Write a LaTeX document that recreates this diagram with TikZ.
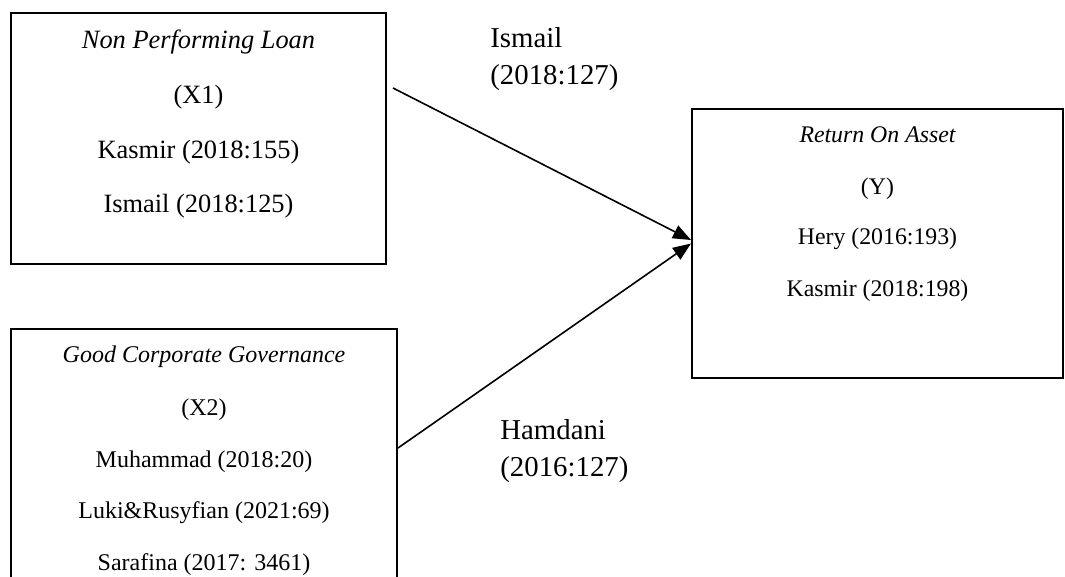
\documentclass[tikz,border=0pt]{standalone}
\usepackage{fontspec}
\setmainfont{Liberation Serif}
\usetikzlibrary{arrows.meta}
\begin{document}
\begin{tikzpicture}[x=0.5pt,y=-0.5pt,
  boxx/.style={draw, line width=1pt, inner sep=0pt},
  txt/.style={anchor=base, inner sep=0pt},
  lbl/.style={anchor=base west, inner sep=0pt, font=\fontsize{14.4}{17}\selectfont},
  fa/.style={font=\fontsize{13.2}{16}\selectfont},
  fai/.style={font=\fontsize{13.2}{16}\selectfont\itshape},
  fb/.style={font=\fontsize{12}{14}\selectfont},
  fbi/.style={font=\fontsize{12}{14}\selectfont\itshape},
  fc/.style={font=\fontsize{11.9}{14}\selectfont},
  fci/.style={font=\fontsize{11.9}{14}\selectfont\itshape},
  conn/.style={line width=0.8pt, -{Triangle[length=9pt,width=7pt]}}
]
\useasboundingbox (0,0) rectangle (1065,577);
\clip (0,0) rectangle (1065,577);
\fill[white] (0,0) rectangle (1065,577);
% boxes
\node[boxx, minimum width=187.5pt, minimum height=125.5pt] (x1) at (198.5,138.5) {};
\node[boxx, minimum width=193pt, minimum height=135.5pt] (x2) at (204,464.5) {};
\node[boxx, minimum width=185.5pt, minimum height=134.5pt] (yb) at (877.5,243.5) {};
% box 1 text
\node[txt, fai] (x1a) at (198.5,49) {Non Performing Loan};
\node[txt, fa] (x1b) at (198.5,104) {(X1)};
\node[txt, fa] (x1c) at (198.5,159) {Kasmir (2018:155)};
\node[txt, fa] (x1d) at (198.5,213) {Ismail (2018:125)};
% box 2 text
\node[txt, fbi] (x2a) at (204,362) {Good Corporate Governance};
\node[txt, fb] (x2b) at (204,415) {(X2)};
\node[txt, fb] (x2c) at (204,467) {Muhammad (2018:20)};
\node[txt, fb] (x2d) at (204,518) {Luki\&Rusyfian (2021:69)};
\node[txt, fb] (x2e) at (204,570) {Sarafina (2017: 3461)};
% box 3 text
\node[txt, fci] (ya) at (877.5,143) {Return On Asset};
\node[txt, fc] (yb1) at (877.5,195) {(Y)};
\node[txt, fc] (yc) at (877.5,245) {Hery (2016:193)};
\node[txt, fc] (yd) at (877.5,297) {Kasmir (2018:198)};
% labels
\node[lbl] (l1a) at (490,48) {Ismail};
\node[lbl] (l1b) at (490,85) {(2018:127)};
\node[lbl] (l2a) at (500,439) {Hamdani};
\node[lbl] (l2b) at (500,476) {(2016:127)};
% connectors
\coordinate (s1) at (393,88);
\coordinate (s2) at (398,448);
\draw[conn] (s1) -- ([yshift=1.75pt]yb.west);
\draw[conn] (s2) -- (yb.west);
\end{tikzpicture}
\end{document}
